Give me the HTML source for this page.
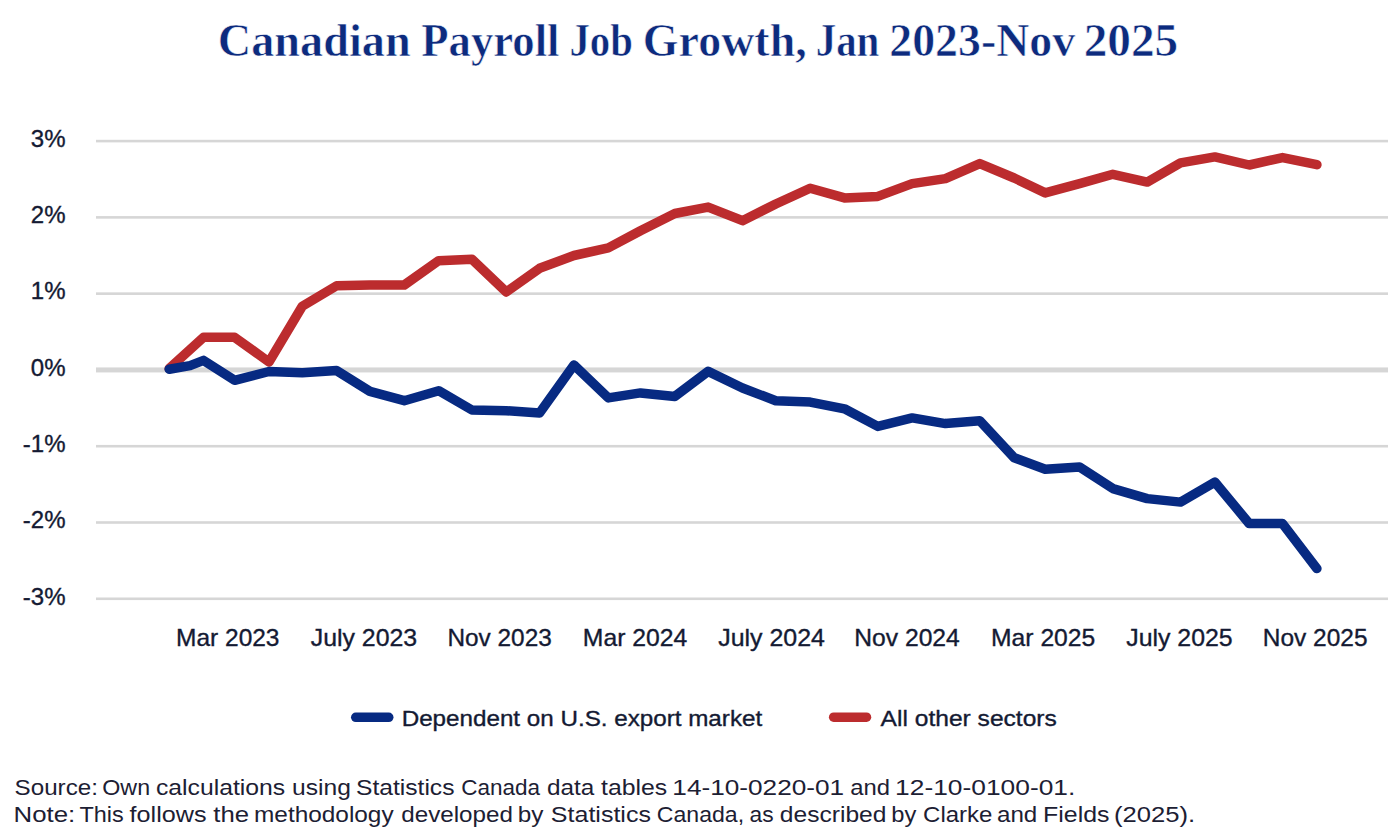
<!DOCTYPE html>
<html><head><meta charset="utf-8">
<style>
html,body{margin:0;padding:0;background:#fff;width:1400px;height:840px;overflow:hidden}
svg{display:block}
.ax{font-family:"Liberation Sans",sans-serif;font-size:24px;fill:#141a33;stroke:#141a33;stroke-width:0.35px}
.lg{font-family:"Liberation Sans",sans-serif;font-size:22.2px;fill:#141a33;stroke:#141a33;stroke-width:0.35px}
.src{font-family:"Liberation Sans",sans-serif;font-size:22px;fill:#1c2033}
.ttl{font-family:"Liberation Serif",serif;font-weight:bold;font-size:46px;fill:#0d2b7e;stroke:#ffffff;stroke-width:0.6px}
</style></head><body>
<svg width="1400" height="840" viewBox="0 0 1400 840">
<rect width="1400" height="840" fill="#ffffff"/>
<text x="217.80" y="56.30" class="ttl" textLength="192.94" lengthAdjust="spacingAndGlyphs">Canadian</text><text x="421.22" y="56.30" class="ttl" textLength="138.31" lengthAdjust="spacingAndGlyphs">Payroll</text><text x="569.41" y="56.30" class="ttl" textLength="63.52" lengthAdjust="spacingAndGlyphs">Job</text><text x="642.82" y="56.30" class="ttl" textLength="163.91" lengthAdjust="spacingAndGlyphs">Growth,</text><text x="815.66" y="56.30" class="ttl" textLength="63.76" lengthAdjust="spacingAndGlyphs">Jan</text><text x="889.25" y="56.30" class="ttl" textLength="185.86" lengthAdjust="spacingAndGlyphs">2023-Nov</text><text x="1083.69" y="56.30" class="ttl" textLength="94.58" lengthAdjust="spacingAndGlyphs">2025</text>
<rect x="96" y="139.80" width="1292" height="2.6" fill="#d6d6d6"/><rect x="96" y="216.08" width="1292" height="2.6" fill="#d6d6d6"/><rect x="96" y="292.36" width="1292" height="2.6" fill="#d6d6d6"/><rect x="96" y="367.44" width="1292" height="5" fill="#d6d6d6"/><rect x="96" y="444.92" width="1292" height="2.6" fill="#d6d6d6"/><rect x="96" y="521.20" width="1292" height="2.6" fill="#d6d6d6"/><rect x="96" y="597.48" width="1292" height="2.6" fill="#d6d6d6"/>
<text x="65.5" y="146.90" text-anchor="end" class="ax">3%</text><text x="65.5" y="223.18" text-anchor="end" class="ax">2%</text><text x="65.5" y="299.46" text-anchor="end" class="ax">1%</text><text x="65.5" y="375.74" text-anchor="end" class="ax">0%</text><text x="65.5" y="452.02" text-anchor="end" class="ax">-1%</text><text x="65.5" y="528.30" text-anchor="end" class="ax">-2%</text><text x="65.5" y="604.58" text-anchor="end" class="ax">-3%</text>
<text x="176.08" y="645.80" class="ax" textLength="103.41" lengthAdjust="spacingAndGlyphs">Mar 2023</text><text x="310.73" y="645.80" class="ax" textLength="106.45" lengthAdjust="spacingAndGlyphs">July 2023</text><text x="447.49" y="645.80" class="ax" textLength="104.27" lengthAdjust="spacingAndGlyphs">Nov 2023</text><text x="582.86" y="645.80" class="ax" textLength="104.48" lengthAdjust="spacingAndGlyphs">Mar 2024</text><text x="718.23" y="645.80" class="ax" textLength="106.78" lengthAdjust="spacingAndGlyphs">July 2024</text><text x="854.27" y="645.80" class="ax" textLength="105.53" lengthAdjust="spacingAndGlyphs">Nov 2024</text><text x="991.07" y="645.80" class="ax" textLength="104.18" lengthAdjust="spacingAndGlyphs">Mar 2025</text><text x="1126.23" y="645.80" class="ax" textLength="106.49" lengthAdjust="spacingAndGlyphs">July 2025</text><text x="1262.88" y="645.80" class="ax" textLength="104.62" lengthAdjust="spacingAndGlyphs">Nov 2025</text>
<polyline points="169.20,368.60 203.58,337.30 234.62,337.30 269.00,362.00 302.27,306.30 336.64,285.70 369.91,285.00 404.28,285.00 438.66,260.70 471.93,259.30 506.30,292.00 539.57,268.30 573.94,255.50 608.32,247.90 640.48,230.70 674.85,213.50 708.12,207.10 742.50,220.70 775.76,204.00 810.14,188.20 844.51,197.90 877.78,196.40 912.16,183.60 945.42,178.60 979.80,163.60 1014.17,178.00 1045.22,192.90 1079.60,183.70 1112.86,174.30 1147.24,182.10 1180.51,162.90 1214.88,156.90 1249.26,165.00 1282.52,157.60 1316.90,164.70" fill="none" stroke="#bc2c2e" stroke-width="9.5" stroke-linejoin="round" stroke-linecap="round"/>
<polyline points="169.20,369.20 190.00,365.60 203.58,360.40 234.62,380.30 269.00,371.50 302.27,372.70 336.64,370.60 369.91,391.40 404.28,400.70 438.66,390.70 471.93,410.00 506.30,410.70 539.57,412.90 573.94,365.00 608.32,397.90 640.48,392.90 674.85,396.40 708.12,371.40 742.50,388.00 775.76,400.70 810.14,402.10 844.51,408.80 877.78,426.40 912.16,417.90 945.42,423.60 979.80,420.70 1014.17,457.70 1045.22,469.20 1079.60,467.00 1112.86,488.60 1147.24,498.60 1180.51,502.10 1214.88,482.10 1249.26,523.60 1282.52,523.60 1316.90,568.60" fill="none" stroke="#072a82" stroke-width="9.5" stroke-linejoin="round" stroke-linecap="round"/>
<line x1="355.75" y1="717.3" x2="388.75" y2="717.3" stroke="#072a82" stroke-width="9.5" stroke-linecap="round"/>
<text x="401.70" y="725.70" class="lg" textLength="360.48" lengthAdjust="spacingAndGlyphs">Dependent on U.S. export market</text>
<line x1="833.65" y1="717.2" x2="866.5" y2="717.2" stroke="#bc2c2e" stroke-width="9.5" stroke-linecap="round"/>
<text x="880.64" y="726.00" class="lg" textLength="176.21" lengthAdjust="spacingAndGlyphs">All other sectors</text>
<text x="14.61" y="794.60" class="src" textLength="83.30" lengthAdjust="spacingAndGlyphs">Source:</text><text x="102.30" y="794.60" class="src" textLength="47.78" lengthAdjust="spacingAndGlyphs">Own</text><text x="155.95" y="794.60" class="src" textLength="129.22" lengthAdjust="spacingAndGlyphs">calculations</text><text x="292.00" y="794.60" class="src" textLength="58.86" lengthAdjust="spacingAndGlyphs">using</text><text x="355.99" y="794.60" class="src" textLength="98.50" lengthAdjust="spacingAndGlyphs">Statistics</text><text x="461.18" y="794.60" class="src" textLength="78.78" lengthAdjust="spacingAndGlyphs">Canada</text><text x="546.97" y="794.60" class="src" textLength="47.31" lengthAdjust="spacingAndGlyphs">data</text><text x="601.03" y="794.60" class="src" textLength="66.17" lengthAdjust="spacingAndGlyphs">tables</text><text x="672.34" y="794.60" class="src" textLength="171.83" lengthAdjust="spacingAndGlyphs">14-10-0220-01</text><text x="850.39" y="794.60" class="src" textLength="39.72" lengthAdjust="spacingAndGlyphs">and</text><text x="895.12" y="794.60" class="src" textLength="180.18" lengthAdjust="spacingAndGlyphs">12-10-0100-01.</text><text x="13.57" y="821.90" class="src" textLength="61.66" lengthAdjust="spacingAndGlyphs">Note:</text><text x="79.47" y="821.90" class="src" textLength="44.23" lengthAdjust="spacingAndGlyphs">This</text><text x="129.62" y="821.90" class="src" textLength="76.94" lengthAdjust="spacingAndGlyphs">follows</text><text x="213.31" y="821.90" class="src" textLength="35.79" lengthAdjust="spacingAndGlyphs">the</text><text x="254.05" y="821.90" class="src" textLength="139.58" lengthAdjust="spacingAndGlyphs">methodology</text><text x="401.27" y="821.90" class="src" textLength="111.65" lengthAdjust="spacingAndGlyphs">developed</text><text x="517.82" y="821.90" class="src" textLength="25.67" lengthAdjust="spacingAndGlyphs">by</text><text x="550.88" y="821.90" class="src" textLength="100.03" lengthAdjust="spacingAndGlyphs">Statistics</text><text x="656.85" y="821.90" class="src" textLength="87.25" lengthAdjust="spacingAndGlyphs">Canada,</text><text x="749.63" y="821.90" class="src" textLength="24.09" lengthAdjust="spacingAndGlyphs">as</text><text x="779.86" y="821.90" class="src" textLength="106.61" lengthAdjust="spacingAndGlyphs">described</text><text x="891.36" y="821.90" class="src" textLength="25.03" lengthAdjust="spacingAndGlyphs">by</text><text x="923.10" y="821.90" class="src" textLength="69.37" lengthAdjust="spacingAndGlyphs">Clarke</text><text x="996.97" y="821.90" class="src" textLength="40.26" lengthAdjust="spacingAndGlyphs">and</text><text x="1043.05" y="821.90" class="src" textLength="66.43" lengthAdjust="spacingAndGlyphs">Fields</text><text x="1114.10" y="821.90" class="src" textLength="81.13" lengthAdjust="spacingAndGlyphs">(2025).</text>
</svg>
</body></html>
